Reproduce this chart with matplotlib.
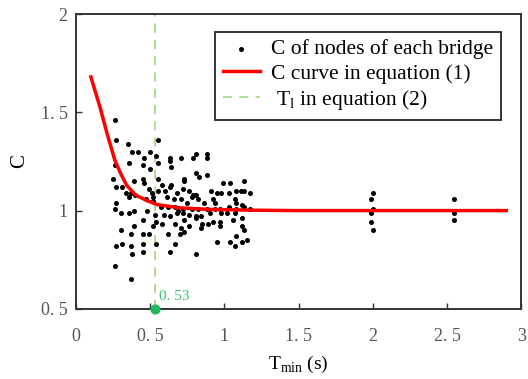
import numpy as np
import matplotlib
matplotlib.use("Agg")
import matplotlib.pyplot as plt

plt.rcParams["font.family"] = ["Liberation Serif", "DejaVu Serif"]
plt.rcParams["mathtext.fontset"] = "custom"
plt.rcParams["mathtext.rm"] = "Liberation Serif"

# C of nodes of each bridge (Tmin, C)
node_t = [0.26, 0.27, 0.35, 0.55, 0.38, 0.42, 0.46, 0.50, 0.54, 0.63, 0.63, 0.71, 0.79, 0.81, 0.88, 0.88,
          0.26, 0.36, 0.45, 0.50, 0.55, 0.64,
          0.25, 0.39, 0.45, 0.46, 0.55, 0.58, 0.64, 0.73, 0.73, 0.81, 0.83, 0.88, 0.99, 1.04, 1.13,
          0.27, 0.31, 0.34, 0.37, 0.40, 0.49, 0.51, 0.55, 0.60, 0.63, 0.68, 0.72, 0.76, 0.79, 0.81,
          0.91, 0.95, 0.98, 1.03, 1.08, 1.11, 1.13, 1.17,
          0.27, 0.36, 0.47, 0.52, 0.52, 0.61, 0.66, 0.71, 0.75, 0.78, 0.82, 0.86, 0.92, 0.94, 1.07, 1.08, 1.12,
          0.26, 0.30, 0.36, 0.39, 0.48, 0.57, 0.62, 0.67, 0.69, 0.72, 0.78, 0.82, 0.88, 0.94, 0.97,
          1.03, 1.08, 1.13, 1.17,
          0.53, 0.59, 0.63, 0.68, 0.72, 0.76, 0.81, 0.84, 0.90, 0.98, 1.02, 1.07,
          0.45, 0.54, 0.67, 0.73, 0.81, 0.85, 0.92, 0.97, 1.06, 1.12,
          0.30, 0.39, 0.52, 0.58, 0.71, 0.76, 0.84, 0.89, 0.97, 1.12, 1.13,
          0.37, 0.45, 0.49, 0.62, 0.70, 0.73, 1.08, 1.15,
          0.27, 0.31, 0.37, 0.45, 0.54, 0.67, 0.95, 1.04, 1.07, 1.12,
          0.38, 0.45, 0.63, 0.81, 0.26, 0.37,
          2.00, 1.99, 2.00, 1.99, 1.99, 2.00,
          2.55, 2.55, 2.55]
node_c = [1.46, 1.36, 1.34, 1.36, 1.30, 1.30, 1.27, 1.30, 1.28, 1.27, 1.25, 1.27, 1.27, 1.29, 1.29, 1.27,
          1.23, 1.24, 1.23, 1.21, 1.24, 1.22,
          1.16, 1.15, 1.16, 1.14, 1.16, 1.13, 1.13, 1.16, 1.15, 1.19, 1.17, 1.18, 1.14, 1.14, 1.15,
          1.12, 1.12, 1.09, 1.09, 1.08, 1.11, 1.09, 1.10, 1.10, 1.12, 1.09, 1.11, 1.10, 1.08, 1.08,
          1.10, 1.09, 1.09, 1.09, 1.10, 1.10, 1.10, 1.09,
          1.04, 1.07, 1.06, 1.07, 1.05, 1.07, 1.06, 1.06, 1.04, 1.07, 1.06, 1.04, 1.06, 1.04, 1.06, 1.04, 1.03,
          1.01, 0.99, 0.99, 1.00, 1.00, 1.02, 1.02, 1.02, 1.00, 1.01, 1.01, 1.01, 1.01, 1.01, 1.01,
          1.02, 1.01, 1.02, 1.01,
          0.98, 0.98, 0.97, 0.99, 0.99, 0.98, 0.97, 0.97, 0.99, 0.99, 0.99, 0.99,
          0.95, 0.94, 0.93, 0.95, 0.96, 0.93, 0.94, 0.94, 0.95, 0.96,
          0.90, 0.92, 0.92, 0.93, 0.91, 0.92, 0.91, 0.93, 0.92, 0.92, 0.90,
          0.88, 0.88, 0.88, 0.88, 0.88, 0.89, 0.87, 0.85,
          0.82, 0.83, 0.82, 0.83, 0.83, 0.83, 0.84, 0.84, 0.82, 0.84,
          0.78, 0.79, 0.79, 0.78, 0.72, 0.65,
          1.09, 1.06, 1.01, 0.99, 0.94, 0.90,
          1.06, 0.99, 0.95]

# C curve in equation (1)
curve_t = [0.10, 0.16, 0.21, 0.26, 0.30, 0.34, 0.40, 0.48, 0.55, 0.70, 0.90, 1.2, 1.5, 2.0, 2.5, 2.9]
curve_c = [1.68, 1.53, 1.39, 1.26, 1.19, 1.13, 1.08, 1.05, 1.03, 1.014, 1.006, 1.002, 1.0, 1.0, 1.0, 1.0]

# T1 in equation (2)
t1 = 0.53

xticks = [0, 0.5, 1, 1.5, 2, 2.5, 3]
xtick_labels = ["0", "0. 5", "1", "1. 5", "2", "2. 5", "3"]
yticks = [0.5, 1, 1.5, 2]
ytick_labels = ["0. 5", "1", "1. 5", "2"]

fig = plt.figure(figsize=(5.28, 3.79), dpi=100)
ax = fig.add_axes([0.144, 0.185, 0.843, 0.778])

ax.scatter(node_t, node_c, s=13, color="black", marker="o", linewidths=0,
           label="C of nodes of each bridge", zorder=3)
ax.plot(curve_t, curve_c, color="#ff0000", lw=2.5, label="C curve in equation (1)", zorder=4)
ax.axvline(t1, color="#a9d98c", lw=1.3, ls=(0, (5, 4)), label=" T$_\\mathrm{l}$ in equation (2)", zorder=2)
ax.scatter([t1], [0.5], s=40, color="#1fb85a", clip_on=False, zorder=5)
ax.text(t1 + 0.03, 0.53, "0. 53", color="#3cc47c", fontsize=11, ha="left", va="bottom")

ax.set_xlim(0, 3)
ax.set_ylim(0.5, 2)
ax.set_xticks(xticks)
ax.set_xticklabels(xtick_labels)
ax.set_yticks(yticks)
ax.set_yticklabels(ytick_labels)
ax.tick_params(direction="in", length=4, width=1, colors="#333333", labelcolor="#555555", labelsize=13)
ax.tick_params(axis="x", pad=14)
ax.tick_params(axis="y", pad=6)
for s in ax.spines.values():
    s.set_linewidth(1.4)
    s.set_color("#333333")

ax.set_xlabel("T$_\\mathrm{min}$ (s)", fontsize=14, labelpad=6)
ax.set_ylabel("C", fontsize=15, labelpad=8)

leg = ax.legend(loc="upper right", bbox_to_anchor=(0.955, 0.94), fontsize=15.5, frameon=True,
                fancybox=False, edgecolor="#333333", framealpha=1, handlelength=1.7,
                handletextpad=0.55, borderpad=0.35, labelspacing=0.2, borderaxespad=0,
                scatterpoints=1, markerscale=1.0)
leg.get_frame().set_linewidth(1.4)

plt.savefig("out.png", dpi=100)
